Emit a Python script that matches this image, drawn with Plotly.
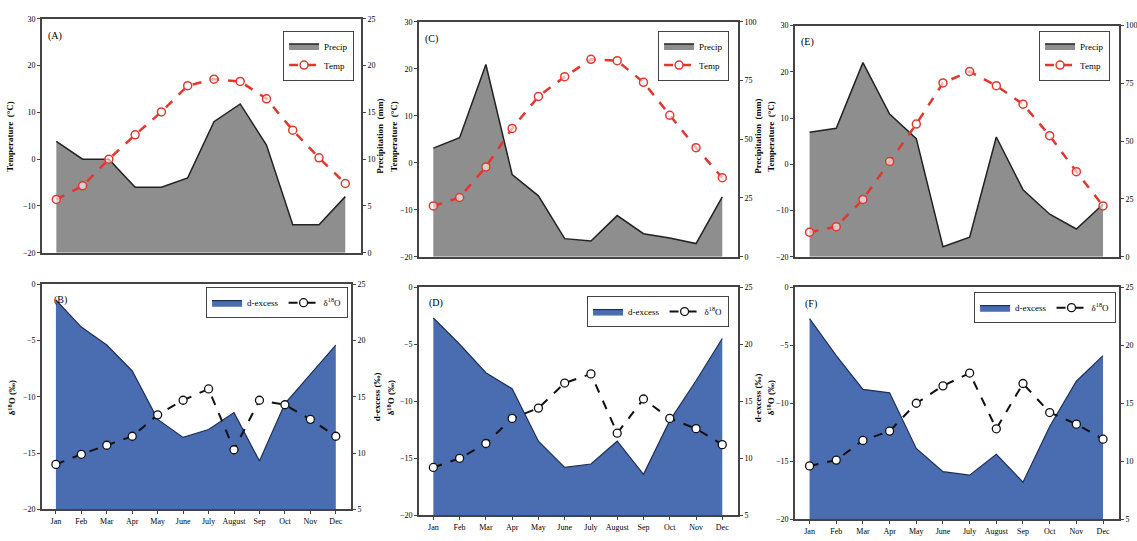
import plotly.graph_objects as go

months = ["Jan", "Feb", "Mar", "Apr", "May", "June", "July", "August", "Sep", "Oct", "Nov", "Dec"]

# Top row: temperature (left axis, °C) and precipitation (right axis, mm)
temp_A = [-8.6, -5.7, 0.0, 5.2, 10.1, 15.7, 17.1, 16.6, 12.9, 6.2, 0.3, -5.2]
precip_A = [11.9, 10.0, 10.0, 7.0, 7.0, 8.0, 14.0, 15.9, 11.5, 3.0, 3.0, 6.0]
temp_C = [-9.2, -7.4, -0.9, 7.3, 14.1, 18.3, 22.0, 21.7, 17.1, 10.1, 3.2, -3.2]
precip_C = [46.2, 50.6, 81.8, 35.0, 25.9, 7.7, 6.7, 17.5, 9.8, 8.0, 5.6, 25.5]
temp_E = [-14.7, -13.5, -7.6, 0.6, 8.7, 17.6, 20.1, 17.0, 13.0, 6.2, -1.6, -9.0]
precip_E = [53.9, 55.6, 84.0, 61.7, 51.1, 4.3, 8.5, 51.8, 29.0, 18.4, 12.0, 22.7]

# Bottom row: d18O (left axis, ‰) and d-excess (right axis, ‰)
d18O_B = [-16.0, -15.1, -14.3, -13.5, -11.6, -10.3, -9.3, -14.7, -10.3, -10.7, -12.0, -13.5]
dex_B = [23.6, 21.2, 19.6, 17.3, 13.0, 11.4, 12.1, 13.6, 9.3, 14.4, 17.0, 19.6]
d18O_D = [-15.8, -15.0, -13.7, -11.5, -10.6, -8.4, -7.6, -12.8, -9.8, -11.5, -12.4, -13.8]
dex_D = [22.3, 20.0, 17.5, 16.1, 11.5, 9.2, 9.5, 11.5, 8.6, 13.3, 16.8, 20.5]
d18O_F = [-15.4, -14.9, -13.2, -12.4, -10.0, -8.5, -7.4, -12.2, -8.3, -10.8, -11.8, -13.1]
dex_F = [22.3, 19.1, 16.2, 15.9, 11.1, 9.1, 8.8, 10.6, 8.2, 13.0, 16.9, 19.1]

temp_ticks = [-20, -10, 0, 10, 20, 30]
precip_ticks_A = [0, 5, 10, 15, 20, 25]
precip_ticks_CE = [0, 25, 50, 75, 100]
d18O_ticks = [-20, -15, -10, -5, 0]
dex_ticks = [5, 10, 15, 20, 25]

W, H = 1137, 541
FONT = "Liberation Serif"
RED = "#e2372f"
GRAY = "#8e8e8e"
BLUE = "#4a6db1"

fig = go.Figure()
x = list(range(12))


def px_x(v):
    return v / W


def px_y(v):
    return 1 - v / H


# panel definitions: (label, box px (x0,x1,ytop,ybot), kind, data, legend px (right, top), label px)
panels = [
    ("(A)", (42, 362, 15, 253), "top", (temp_A, precip_A, [0, 25], precip_ticks_A), (355, 27), (46, 24)),
    ("(C)", (420, 740, 18, 257), "top", (temp_C, precip_C, [0, 100], precip_ticks_CE), (731, 27), (424, 27)),
    ("(E)", (797, 1122, 22, 257), "top", (temp_E, precip_E, [0, 100], precip_ticks_CE), (1113, 27), (801, 31)),
    ("(B)", (42, 352, 285, 514), "bot", (d18O_B, dex_B), (349, 288), (52, 293)),
    ("(D)", (420, 740, 288, 520), "bot", (d18O_D, dex_D), (731, 297), (428, 296)),
    ("(F)", (797, 1122, 288, 524), "bot", (d18O_F, dex_F), (1119, 293), (805, 297)),
]

layout = dict(
    width=W, height=H, margin=dict(l=0, r=0, t=0, b=0),
    paper_bgcolor="white", plot_bgcolor="white",
    font=dict(family=FONT, size=9, color="black"),
    showlegend=True,
)
annotations = []
tickfont = dict(family=FONT, size=8, color="black")

for k, (lab, (x0, x1, yt, yb), kind, data, (lr, lt), (lx, ly)) in enumerate(panels, start=1):
    xs = "" if k == 1 else str(k)
    p = 2 * k - 1
    q = 2 * k
    ps = "" if p == 1 else str(p)
    qs = str(q)
    legname = "legend" if k == 1 else f"legend{k}"
    xdom = [px_x(x0), px_x(x1)]
    ydom = [px_y(yb), px_y(yt)]

    xax = dict(
        domain=xdom, anchor=f"y{ps}", range=[-0.55, 11.6],
        showline=True, linecolor="#444", linewidth=1.5, mirror=True,
        showgrid=False, zeroline=False,
    )
    if kind == "bot":
        xax.update(tickmode="array", tickvals=x, ticktext=months,
                   ticks="outside", ticklen=3, tickcolor="#444", tickfont=tickfont)
    else:
        xax.update(tickmode="array", tickvals=[], showticklabels=False, ticks="")
    layout[f"xaxis{xs}"] = xax

    if kind == "top":
        temp, precip, prange, pticks = data
        layout[f"yaxis{ps}"] = dict(
            domain=ydom, anchor=f"x{xs}", side="right", range=prange,
            tickvals=pticks, showline=True, linecolor="#444", linewidth=1.5,
            showgrid=False, zeroline=False, ticks="outside", ticklen=3,
            tickcolor="#444", tickfont=tickfont,
        )
        layout[f"yaxis{qs}"] = dict(
            overlaying=f"y{ps}", anchor=f"x{xs}", side="left", range=[-20, 30],
            tickvals=temp_ticks, showline=True, linecolor="#444", linewidth=1.5,
            showgrid=False, zeroline=False, ticks="outside", ticklen=3,
            tickcolor="#444", tickfont=tickfont,
        )
        fig.add_trace(go.Scatter(
            x=x, y=precip, name="Precip", mode="lines", fill="tozeroy",
            fillcolor=GRAY, line=dict(color="#222", width=1.5),
            xaxis=f"x{xs}", yaxis=f"y{ps}", legend=legname,
        ))
        fig.add_trace(go.Scatter(
            x=x, y=temp, name="Temp", mode="lines+markers",
            line=dict(color=RED, width=2.5, dash="dash"),
            marker=dict(symbol="circle", size=8, color="rgba(255,255,255,0.6)",
                        line=dict(color=RED, width=1.5)),
            xaxis=f"x{xs}", yaxis=f"y{qs}", legend=legname,
        ))
        layout[legname] = dict(
            x=px_x(lr), y=px_y(lt), xanchor="right", yanchor="top",
            bordercolor="#444", borderwidth=1, bgcolor="white",
            font=dict(family=FONT, size=9), orientation="v",
            itemwidth=30, tracegroupgap=0,
        )
    else:
        d18, dex = data
        layout[f"yaxis{ps}"] = dict(
            domain=ydom, anchor=f"x{xs}", side="right", range=[5, 25],
            tickvals=dex_ticks, showline=True, linecolor="#444", linewidth=1.5,
            showgrid=False, zeroline=False, ticks="outside", ticklen=3,
            tickcolor="#444", tickfont=tickfont,
        )
        layout[f"yaxis{qs}"] = dict(
            overlaying=f"y{ps}", anchor=f"x{xs}", side="left", range=[-20, 0],
            tickvals=d18O_ticks, showline=True, linecolor="#444", linewidth=1.5,
            showgrid=False, zeroline=False, ticks="outside", ticklen=3,
            tickcolor="#444", tickfont=tickfont,
        )
        fig.add_trace(go.Scatter(
            x=x, y=dex, name="d-excess", mode="lines", fill="tozeroy",
            fillcolor=BLUE, line=dict(color="#1d2f55", width=1.2),
            xaxis=f"x{xs}", yaxis=f"y{ps}", legend=legname,
        ))
        fig.add_trace(go.Scatter(
            x=x, y=d18, name="δ<sup>18</sup>O", mode="lines+markers",
            line=dict(color="#111", width=2, dash="dash"),
            marker=dict(symbol="circle", size=8, color="white",
                        line=dict(color="#111", width=1.3)),
            xaxis=f"x{xs}", yaxis=f"y{qs}", legend=legname,
        ))
        layout[legname] = dict(
            x=px_x(lr), y=px_y(lt), xanchor="right", yanchor="top",
            bordercolor="#444", borderwidth=1, bgcolor="white",
            font=dict(family=FONT, size=9), orientation="h",
            itemwidth=30,
        )
    annotations.append(dict(
        text=lab, x=px_x(lx), y=px_y(ly), xref="paper", yref="paper",
        xanchor="left", yanchor="top", showarrow=False,
        font=dict(family=FONT, size=10, color="black"),
    ))

# rotated axis titles
titles = [
    ("<b>Temperature  (°C)</b>", 10, 134),
    ("<b>Precipitation  (mm)</b>", 381, 134),
    ("<b>Temperature  (°C)</b>", 395, 134),
    ("<b>Precipitation  (mm)</b>", 760, 134),
    ("<b>Temperature  (°C)</b>", 773, 134),
    ("<b>δ<sup>18</sup>O (‰)</b>", 12, 400),
    ("<b>d-excess (‰)</b>", 378, 400),
    ("<b>δ<sup>18</sup>O (‰)</b>", 392, 400),
    ("<b>d-excess (‰)</b>", 760, 400),
    ("<b>δ<sup>18</sup>O (‰)</b>", 773, 400),
]
for t, tx, ty in titles:
    annotations.append(dict(
        text=t, x=px_x(tx), y=px_y(ty), xref="paper", yref="paper",
        xanchor="center", yanchor="middle", textangle=-90, showarrow=False,
        font=dict(family=FONT, size=9, color="black"),
    ))

layout["annotations"] = annotations
fig.update_layout(**layout)
fig.write_html("out.html")
